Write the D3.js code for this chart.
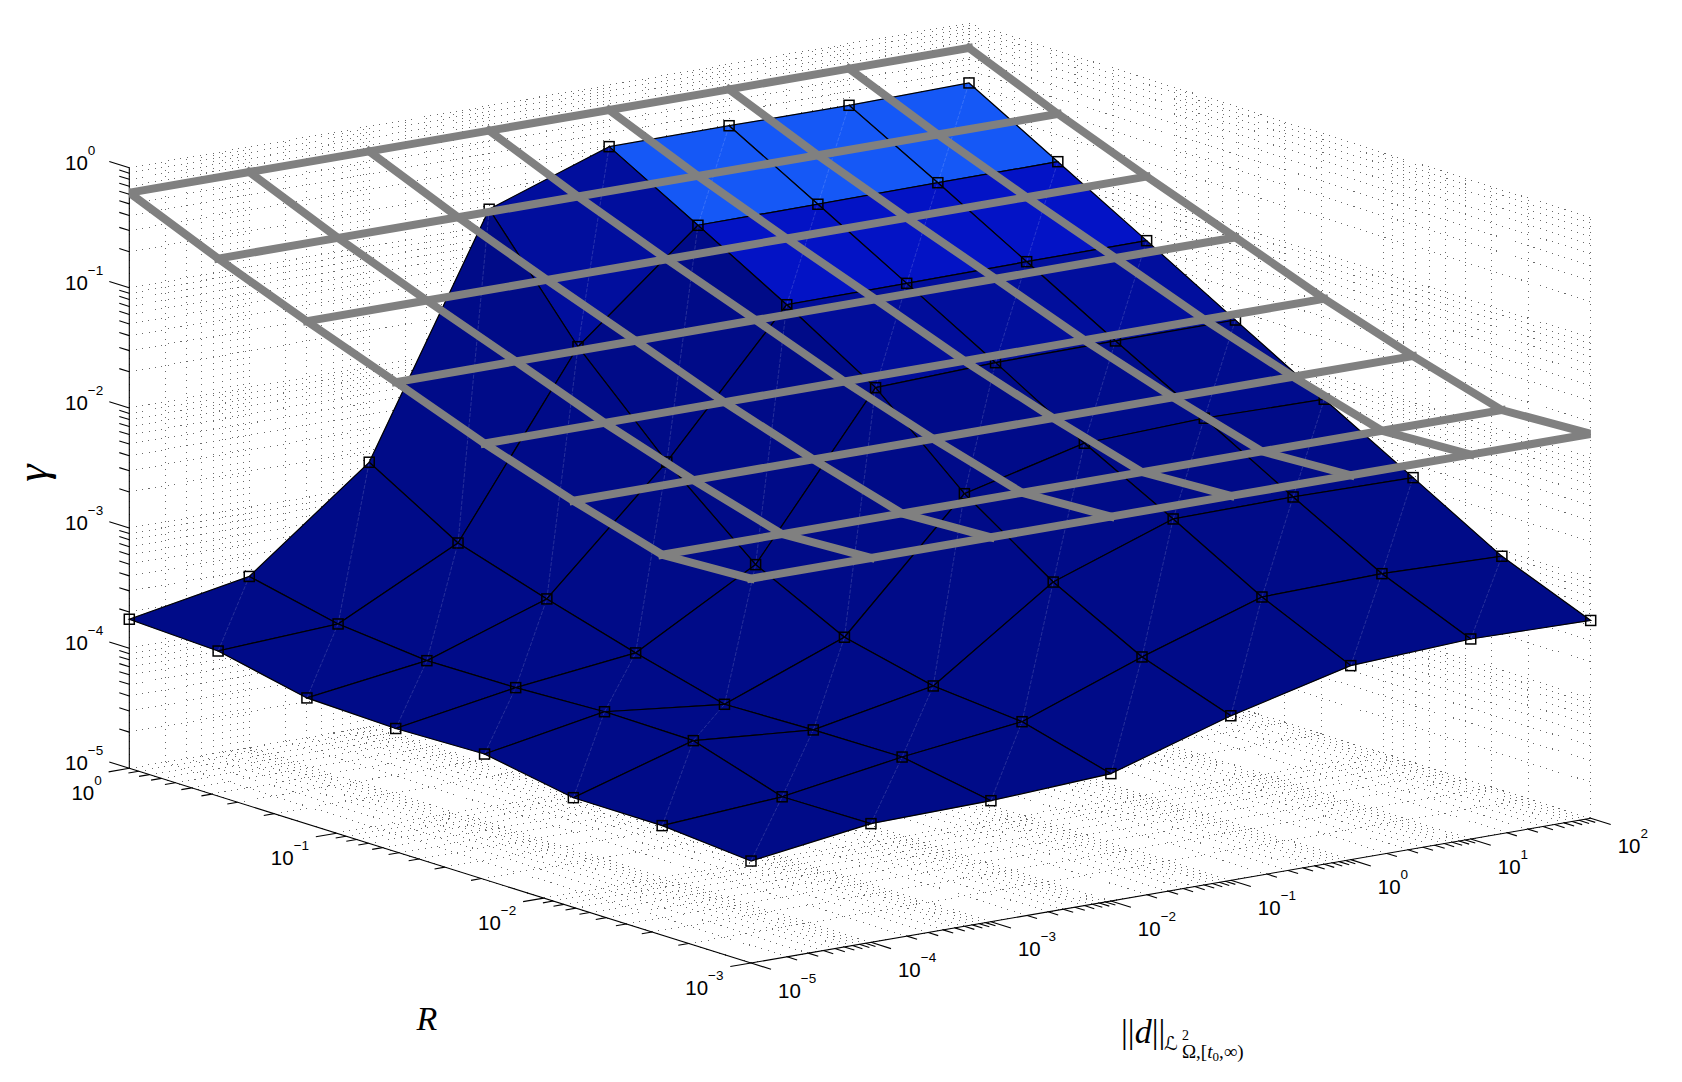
<!DOCTYPE html>
<html>
<head>
<meta charset="utf-8">
<script src="https://cdn.jsdelivr.net/npm/d3@7"></script>
<style>
html,body{margin:0;padding:0;background:#fff;overflow:hidden}
svg{display:block}
text{fill:#000}
.tick{font-family:"Liberation Sans",Arial,sans-serif;font-size:20.5px}
.math{font-family:"Liberation Serif","DejaVu Serif",serif}
</style>
</head>
<body>
<svg id="chart" width="1682" height="1082"></svg>
<script>
// ---------- data ----------
const rValues = [0.001, 0.0026827, 0.0071969, 0.019307, 0.051795, 0.13895, 0.37276, 1];
const dValues = [1e-5, 1e-4, 1e-3, 1e-2, 1e-1, 1, 10, 100];
// log10(gamma): rows follow rValues, columns follow dValues
const logGammaSurface = [
  [-4.151,-4.012,-3.993,-3.940,-3.630,-3.385,-3.335,-3.353],
  [-4.088,-4.020,-3.861,-3.739,-3.372,-3.045,-3.023,-3.050],
  [-4.087,-3.784,-3.867,-3.673,-2.980,-2.627,-2.616,-2.627],
  [-3.955,-3.775,-3.885,-3.499,-2.476,-2.228,-2.192,-2.206],
  [-3.974,-3.806,-3.689,-3.126,-1.825,-1.789,-1.780,-1.778],
  [-3.951,-3.813,-3.471,-2.503,-1.366,-1.360,-1.352,-1.349],
  [-3.792,-3.739,-3.237,-1.775,-0.936,-0.933,-0.926,-0.923],
  [-3.759,-3.575,-2.796,-0.862,-0.513,-0.511,-0.513,-0.499]
];
// log10(gamma) of the grey upper mesh, one value per R (flat along d)
const logGammaBound = [-1.800,-1.833,-1.615,-1.370,-1.090,-0.815,-0.525,-0.208];
const rExponents = [-3,-2,-1,0];
const dExponents = [-5,-4,-3,-2,-1,0,1,2];
const gammaExponents = [-5,-4,-3,-2,-1,0];
const faceColorStops = [0.003, 0.044, 0.115];
const faceColors = ["#000b88","#0313c6","#1558f6"];

// ---------- projection (orthographic view of the log box) ----------
const rScale = d3.scaleLog().domain([1e-3,1]).range([0,1]);
const dScale = d3.scaleLog().domain([1e-5,100]).range([0,1]);
const gScale = d3.scaleLog().domain([1e-5,1]).range([0,1]);
const O = [751,963], U = [-621.7,-194.7], V = [839.7,-144.7], W = -600.6;
const project = (r,d,g) => {
  const a = rScale(r), b = dScale(d), c = gScale(g);
  return [O[0]+a*U[0]+b*V[0], O[1]+a*U[1]+b*V[1]+c*W];
};
const unit = v => { const l = Math.hypot(v[0],v[1]); return [v[0]/l,v[1]/l]; };
const uHat = unit(U), vHat = unit(V);

const svg = d3.select("#chart");
const line = d3.line();
const isMajor = t => Math.abs(Math.log10(t)-Math.round(Math.log10(t)))<1e-9;
const rTicks = rScale.ticks(10), dTicks = dScale.ticks(10), gTicks = gScale.ticks(10);
const [rMin,rMax] = rScale.domain(), [dMin,dMax] = dScale.domain(), [gMin,gMax] = gScale.domain();

// ---------- dotted grids on floor and two back walls ----------
const gridSegs = [];
rTicks.forEach(r => {
  gridSegs.push([project(r,dMin,gMin),project(r,dMax,gMin)]);
  gridSegs.push([project(r,dMax,gMin),project(r,dMax,gMax)]);
});
dTicks.forEach(d => {
  gridSegs.push([project(rMin,d,gMin),project(rMax,d,gMin)]);
  gridSegs.push([project(rMax,d,gMin),project(rMax,d,gMax)]);
});
gTicks.forEach(g => {
  gridSegs.push([project(rMax,dMin,g),project(rMax,dMax,g)]);
  gridSegs.push([project(rMax,dMax,g),project(rMin,dMax,g)]);
});
svg.append("g").attr("fill","none").attr("stroke","#6a6a6a").attr("stroke-width",1)
  .attr("stroke-dasharray","1 5.5").attr("shape-rendering","crispEdges")
  .selectAll("path").data(gridSegs).join("path").attr("d",line);

// ---------- axes and ticks ----------
const axes = svg.append("g").attr("fill","none").attr("stroke","#000").attr("stroke-width",1.1);
axes.append("path").attr("d",line([project(rMax,dMin,gMin),project(rMax,dMin,gMax)]));
axes.append("path").attr("d",line([project(rMax,dMin,gMin),project(rMin,dMin,gMin)]));
axes.append("path").attr("d",line([project(rMin,dMin,gMin),project(rMin,dMax,gMin)]));
const tickSeg = (p,dir,t) => { const l = isMajor(t)?21:10.5; return [p,[p[0]+dir[0]*l,p[1]+dir[1]*l]]; };
const tickSegs = [
  ...gTicks.map(t => tickSeg(project(rMax,dMin,t),uHat,t)),
  ...rTicks.map(t => tickSeg(project(t,dMin,gMin),[-vHat[0],-vHat[1]],t)),
  ...dTicks.map(t => tickSeg(project(rMin,t,gMin),[-uHat[0],-uHat[1]],t))
];
axes.selectAll("path.t").data(tickSegs).join("path").attr("class","t").attr("d",line);

// ---------- surface ----------
const gamma = logGammaSurface.map(row => row.map(e => Math.pow(10,e)));
const P = (i,j) => project(rValues[i],dValues[j],gamma[i][j]);
const faceColor = d3.scaleLinear().domain(faceColorStops).range(faceColors).clamp(true);
const faces = [];
for (let i=rValues.length-2;i>=0;i--) for (let j=dValues.length-2;j>=0;j--) {
  faces.push({i,j,v:Math.min(gamma[i][j],gamma[i+1][j],gamma[i][j+1],gamma[i+1][j+1])});
}
const faceG = svg.append("g").selectAll("g").data(faces).join("g");
faceG.append("path")
  .attr("d",f => line([P(f.i,f.j),P(f.i+1,f.j),P(f.i+1,f.j+1),P(f.i,f.j+1)])+"Z")
  .attr("fill",f => faceColor(f.v))
  .attr("stroke",f => faceColor(f.v)).attr("stroke-width",0.4);
faceG.append("path")
  .attr("d",f => line([P(f.i,f.j),P(f.i+1,f.j+1)]))
  .attr("fill","none").attr("stroke","#fff").attr("stroke-opacity",0.25)
  .attr("stroke-width",0.6).attr("stroke-dasharray","4 1.5");
faceG.append("path")
  .attr("d",f => line([P(f.i,f.j),P(f.i+1,f.j),P(f.i+1,f.j+1),P(f.i,f.j+1)])+"Z")
  .attr("fill","none").attr("stroke","#000").attr("stroke-width",1.2);

// ---------- square markers ----------
const pts = d3.cross(d3.range(rValues.length),d3.range(dValues.length));
svg.append("g").attr("fill","none").attr("stroke","#000").attr("stroke-width",1.5)
  .selectAll("rect").data(pts).join("rect")
  .attr("x",([i,j]) => P(i,j)[0]-5).attr("y",([i,j]) => P(i,j)[1]-5)
  .attr("width",10).attr("height",10);

// ---------- grey mesh ----------
const bound = logGammaBound.map(e => Math.pow(10,e));
const B = (i,j) => project(rValues[i],dValues[j],bound[i]);
svg.append("clipPath").attr("id","box").append("rect")
  .attr("x",project(rMax,dMin,gMin)[0]).attr("y",0)
  .attr("width",project(rMin,dMax,gMin)[0]-project(rMax,dMin,gMin)[0]).attr("height",1082);
const greyPaths = [
  ...rValues.map((_,i) => dValues.map((_,j) => B(i,j))),
  ...dValues.map((_,j) => rValues.map((_,i) => B(i,j)))
];
svg.append("g").attr("clip-path","url(#box)").attr("fill","none").attr("stroke","#808080")
  .attr("stroke-width",8).attr("stroke-linejoin","miter").attr("stroke-linecap","square")
  .selectAll("path").data(greyPaths).join("path").attr("d",line);

// ---------- tick labels ----------
const powerLabel = (x,y,anchor,e) => {
  const t = svg.append("text").attr("class","tick").attr("x",x).attr("y",y).attr("text-anchor",anchor);
  t.append("tspan").text("10");
  t.append("tspan").attr("dy",-15).attr("font-size",13.5).text(String(e).replace("-","\u2212"));
};
gammaExponents.forEach(e => { const p = project(rMax,dMin,Math.pow(10,e)); powerLabel(65,p[1]+2,"start",e); });
rExponents.forEach(e => { const p = project(Math.pow(10,e),dMin,gMin); powerLabel(p[0]-27.5,p[1]+32,"end",e); });
dExponents.forEach(e => { const p = project(rMin,Math.pow(10,e),gMin); powerLabel(p[0]+27,p[1]+34.7,"start",e); });

// ---------- axis titles ----------
svg.append("text").attr("class","math").attr("transform","translate(47,473) rotate(-90)")
  .attr("text-anchor","middle").attr("font-style","italic").attr("font-size",44).text("\u03b3");
svg.append("text").attr("class","math").attr("x",427).attr("y",1030)
  .attr("text-anchor","middle").attr("font-style","italic").attr("font-size",34).text("R");
const dl = svg.append("text").attr("class","math").attr("x",1121).attr("y",1043).attr("font-size",34);
dl.append("tspan").text("||");
dl.append("tspan").attr("font-style","italic").text("d");
dl.append("tspan").text("||");
svg.append("text").attr("x",1164).attr("y",1050)
  .attr("font-family","DejaVu Sans").attr("font-size",19).text("\u2112");
svg.append("text").attr("class","math").attr("x",1182).attr("y",1040).attr("font-size",14).text("2");
const sub = svg.append("text").attr("class","math").attr("x",1182).attr("y",1058).attr("font-size",19);
sub.append("tspan").text("\u03a9,[");
sub.append("tspan").attr("font-style","italic").text("t");
sub.append("tspan").attr("font-size",13).attr("dy",3).text("0");
sub.append("tspan").attr("dy",-3).text(",\u221e)");
</script>
</body>
</html>
